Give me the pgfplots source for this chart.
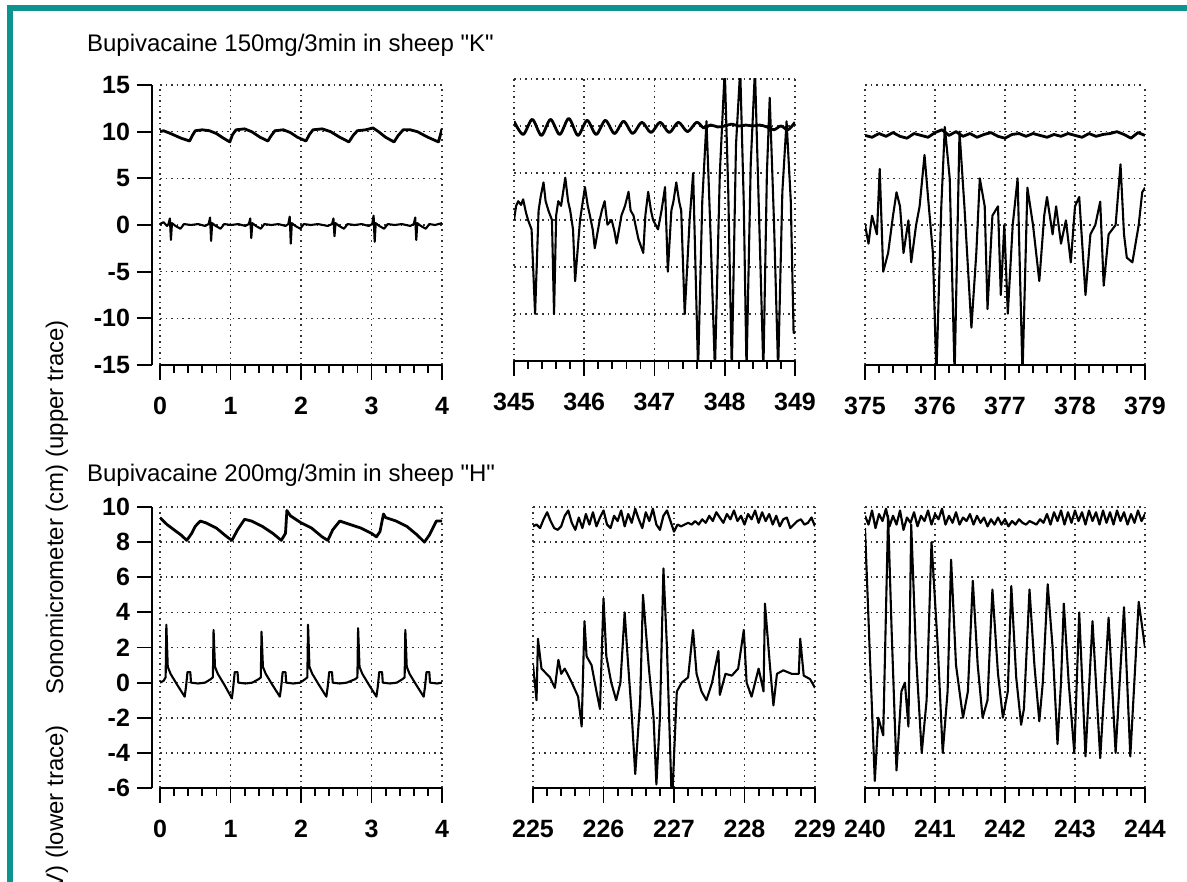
\documentclass[border=0pt]{standalone}
\usepackage{fontspec}
\setmainfont{Liberation Sans}
\usepackage{pgfplots}
\pgfplotsset{compat=1.18}
\definecolor{tealframe}{RGB}{14,148,144}
\pgfplotsset{
  panel/.style={
    scale only axis, clip=true,
    axis x line*=bottom, axis y line*=left,
    axis line style={-, line width=1.2pt, black},
    tick align=outside,
    major tick length=7.5pt, minor tick length=4pt,
    minor x tick num=4,
    tick style={black, line width=0.9pt},
    xmajorgrids, ymajorgrids,
    major grid style={black!80, line width=0.8pt, dash pattern=on 0.8pt off 2pt},
    ticklabel style={font=\bfseries\fontsize{12.5}{14}\selectfont},
    xticklabel style={yshift=-5pt},
    /pgf/number format/assume math mode=true,
    /pgf/number format/1000 sep={},
  },
  noy/.style={y axis line style={draw=none}, ytick style={draw=none}, yticklabels={}},
  up/.style={black, line width=1.4pt, line join=round, mark=none},
  lo/.style={black, line width=1.05pt, line join=round, mark=none},
}
\begin{document}
\begin{tikzpicture}
\useasboundingbox (0,0) rectangle (593.5pt,-441pt);
\clip (0,0) rectangle (593.5pt,-441pt);
\fill[white] (0,0) rectangle (593.5pt,-441pt);
\fill[tealframe] (3.5pt,-2.5pt) rectangle (593.5pt,-5.5pt);
\fill[tealframe] (3.5pt,-2.5pt) rectangle (6.5pt,-441pt);

\node[anchor=base west, font=\fontsize{12}{14}\selectfont] at (40pt,-26pt) {Bupivacaine 150mg/3min in sheep \textquotedbl K\textquotedbl};
\node[anchor=base west, font=\fontsize{12}{14}\selectfont] at (40pt,-240.8pt) {Bupivacaine 200mg/3min in sheep \textquotedbl H\textquotedbl};
\node[rotate=90, anchor=east, font=\fontsize{12}{14}\selectfont] at (28.5pt,-156.5pt) {Sonomicrometer (cm) (upper trace)};
\node[rotate=90, anchor=east, font=\fontsize{12}{14}\selectfont] at (28.5pt,-359pt) {ECG (mV) (lower trace)};

% ---------- Panel 1 ----------
\begin{axis}[panel, at={(80pt,-42.5pt)}, anchor=north west, width=141pt, height=140pt,
  xmin=0, xmax=4, ymin=-15, ymax=15, xtick={0,1,2,3,4}, ytick={-15,-10,-5,0,5,10,15},
  axis y line shift=4pt]
\addplot[up] coordinates {(0,10.0) (0.05,10.1) (0.15,9.8) (0.3,9.3) (0.42,9.0) (0.46,9.6) (0.5,10.1) (0.6,10.2) (0.7,10.1) (0.8,9.8) (0.9,9.3) (0.99,8.9) (1.03,9.7) (1.08,10.2) (1.2,10.3) (1.3,10.0) (1.42,9.4) (1.53,9.0) (1.58,9.6) (1.63,10.1) (1.75,10.2) (1.85,9.9) (1.95,9.4) (2.07,9.0) (2.12,9.7) (2.17,10.2) (2.3,10.3) (2.42,10.0) (2.55,9.4) (2.68,8.9) (2.74,9.6) (2.8,10.1) (2.92,10.2) (3.02,10.4) (3.1,10.0) (3.2,9.4) (3.32,8.9) (3.38,9.6) (3.45,10.2) (3.55,10.2) (3.65,10.0) (3.8,9.4) (3.95,8.9) (4.0,10.3)};
\addplot[lo] coordinates {(0,0.1) (0.05,0.3) (0.1,-0.1) (0.12,0.1) (0.14,0.7) (0.155,-1.6) (0.17,0.2) (0.22,-0.1) (0.29,-0.4) (0.34,0.1) (0.44,0) (0.54,0.1) (0.64,-0.1)
(0.69,0.1) (0.71,0.8) (0.725,-1.7) (0.74,0.2) (0.79,-0.1) (0.86,-0.4) (0.91,0.1) (1.01,0) (1.11,0.1) (1.21,-0.1)
(1.26,0.1) (1.28,0.7) (1.295,-1.4) (1.31,0.2) (1.36,-0.1) (1.43,-0.4) (1.48,0.1) (1.58,0) (1.68,0.1) (1.78,-0.1)
(1.82,0.1) (1.84,0.9) (1.855,-2.0) (1.87,0.2) (1.92,-0.1) (1.99,-0.4) (2.04,0.1) (2.14,0) (2.24,0.1) (2.38,-0.1)
(2.44,0.1) (2.46,0.7) (2.475,-1.2) (2.49,0.2) (2.54,-0.1) (2.61,-0.4) (2.66,0.1) (2.76,0) (2.86,0.1) (2.96,-0.1)
(3.01,0.1) (3.03,1.0) (3.045,-1.8) (3.06,0.2) (3.11,-0.1) (3.18,-0.4) (3.23,0.1) (3.33,0) (3.43,0.1) (3.55,-0.1)
(3.60,0.1) (3.62,0.8) (3.635,-1.6) (3.65,0.2) (3.70,-0.1) (3.77,-0.4) (3.82,0.1) (3.9,0) (4.0,0.2)};
\end{axis}

% ---------- Panel 2 ----------
\begin{axis}[panel, noy, at={(257pt,-39.5pt)}, anchor=north west, width=140.5pt, height=141pt,
  xmin=345, xmax=349, ymin=-15, ymax=15, xtick={345,346,347,348,349}, ytick={-15,-10,-5,0,5,10,15}]
\addplot[up, smooth, tension=0.5] coordinates {(345.00,10.5) (345.13,9.1) (345.26,10.7) (345.39,9.0) (345.52,10.7) (345.65,9.1) (345.78,10.8) (345.91,9.0) (346.04,10.6) (346.17,9.1) (346.30,10.6) (346.43,9.2) (346.56,10.5) (346.69,9.2) (346.82,10.4) (346.95,9.3) (347.08,10.4) (347.21,9.3) (347.34,10.4) (347.47,9.4) (347.60,10.4) (347.7,9.8) (347.8,10.1) (347.9,9.9) (348.0,10.0) (348.1,10.2) (348.2,10.0) (348.3,10.1) (348.4,10.0) (348.5,10.1) (348.6,9.9) (348.7,9.6) (348.8,10.0) (348.9,9.6) (349.0,10.4)};
\addplot[lo] coordinates {(345.0,0) (345.03,1.5) (345.06,2) (345.1,1.6) (345.13,2.2) (345.17,0.8) (345.2,0) (345.25,-1) (345.30,-10) (345.35,1) (345.38,2.5) (345.42,4) (345.45,2) (345.49,1) (345.54,0) (345.57,-10) (345.6,0.5) (345.63,2) (345.67,1.5) (345.73,4.5) (345.77,2) (345.80,1) (345.84,-1) (345.87,-6.5) (345.94,0) (345.97,1.5) (346.01,3.5) (346.05,1.5) (346.08,0.5) (346.12,-1) (346.15,-3) (346.22,0) (346.25,1) (346.29,2) (346.33,-0.5) (346.39,0) (346.43,-1.2) (346.46,-2.5) (346.53,0.5) (346.58,1.5) (346.63,3) (346.66,1) (346.70,0.5) (346.77,-2) (346.84,-3.5) (346.87,0.5) (346.91,3) (346.95,1) (346.98,0) (347.05,-1) (347.1,1) (347.15,3.5) (347.19,-5.5) (347.24,1) (347.27,2) (347.31,4) (347.35,2) (347.38,1) (347.43,-10) (347.50,0) (347.55,5)
(347.62,-16) (347.68,2) (347.74,10.5) (347.80,-2) (347.86,-16) (347.93,5) (348.0,16) (348.05,3) (348.10,-16) (348.16,8) (348.22,16) (348.27,2) (348.31,-16) (348.37,6) (348.43,16) (348.49,0) (348.55,-16) (348.60,5) (348.64,13) (348.70,0) (348.76,-16) (348.82,3) (348.88,10.5) (348.94,2) (348.98,-12) (349.0,-12)};
\end{axis}

% ---------- Panel 3 ----------
\begin{axis}[panel, noy, at={(432.5pt,-42.5pt)}, anchor=north west, width=140pt, height=140pt,
  xmin=375, xmax=379, ymin=-15, ymax=15, xtick={375,376,377,378,379}, ytick={-15,-10,-5,0,5,10,15}]
\addplot[up] coordinates {(375.0,9.6) (375.1,9.4) (375.2,9.8) (375.3,9.5) (375.4,9.9) (375.5,9.5) (375.6,9.3) (375.7,9.8) (375.8,9.6) (375.9,9.4) (376.0,9.9) (376.1,10.2) (376.2,9.6) (376.3,10.0) (376.4,9.5) (376.5,9.8) (376.6,9.4) (376.7,9.7) (376.8,9.9) (376.9,9.5) (377.0,9.3) (377.1,9.7) (377.2,9.8) (377.3,9.5) (377.4,9.8) (377.5,9.6) (377.6,9.4) (377.7,9.7) (377.8,9.5) (377.9,9.8) (378.0,9.6) (378.1,9.4) (378.2,9.8) (378.3,9.5) (378.4,9.7) (378.5,9.8) (378.6,10.0) (378.7,9.7) (378.8,9.3) (378.9,9.9) (379.0,9.6)};
\addplot[lo] coordinates {(375.0,0) (375.05,-2) (375.1,1) (375.17,-1) (375.21,6) (375.26,-5) (375.33,-3) (375.40,1) (375.45,3.5) (375.5,2) (375.55,-3) (375.62,0.5) (375.66,-4) (375.73,0) (375.78,2) (375.85,7.5) (375.9,3) (375.97,-3) (376.02,-16) (376.09,2) (376.14,10.5) (376.21,5) (376.28,-16) (376.35,10) (376.42,2) (376.52,-11) (376.59,-3) (376.64,5) (376.71,2) (376.75,-9) (376.82,1) (376.9,2) (376.94,-7.5) (376.99,0) (377.04,-9.5) (377.11,0) (377.18,5) (377.25,-16) (377.32,4) (377.4,0) (377.49,-6) (377.56,1) (377.6,3) (377.68,-1) (377.73,2) (377.8,-2) (377.87,0.5) (377.94,-4) (378.0,2) (378.06,3) (378.15,-7.5) (378.22,-1) (378.29,0) (378.36,2.5) (378.41,-6.5) (378.48,-1) (378.58,0) (378.65,6.5) (378.7,-1) (378.74,-3.5) (378.82,-4) (378.91,0) (378.96,3.5) (379.0,4)};
\end{axis}

% ---------- Panel 4 ----------
\begin{axis}[panel, at={(80pt,-253.5pt)}, anchor=north west, width=141pt, height=140.5pt,
  xmin=0, xmax=4, ymin=-6, ymax=10, xtick={0,1,2,3,4}, ytick={-6,-4,-2,0,2,4,6,8,10},
  axis y line shift=4pt]
\addplot[up] coordinates {(0,9.4) (0.1,9.0) (0.2,8.7) (0.3,8.4) (0.38,8.1) (0.45,8.5) (0.5,8.9) (0.57,9.2) (0.65,9.1) (0.8,8.8) (0.95,8.3) (1.02,8.1) (1.1,8.7) (1.2,9.3) (1.3,9.2) (1.45,8.9) (1.6,8.5) (1.72,8.1) (1.78,8.5) (1.8,9.8) (1.85,9.5) (2.0,9.1) (2.15,8.8) (2.3,8.3) (2.38,8.1) (2.45,8.7) (2.55,9.2) (2.7,9.0) (2.85,8.8) (3.0,8.5) (3.07,8.3) (3.12,8.6) (3.17,9.6) (3.2,9.4) (3.35,9.2) (3.5,8.9) (3.65,8.4) (3.75,8.0) (3.82,8.4) (3.92,9.2) (4.0,9.2)};
\addplot[lo] coordinates {(0,0) (0.05,0.1) (0.08,0.3) (0.09,3.3) (0.11,0.9) (0.15,0.5) (0.24,-0.1) (0.35,-0.8) (0.37,-0.2) (0.39,0.6) (0.43,0.6) (0.44,0) (0.54,-0.05) (0.64,0) (0.72,0.2)
(0.75,0.3) (0.76,3.0) (0.78,0.9) (0.82,0.5) (0.91,-0.1) (1.02,-0.9) (1.04,-0.2) (1.06,0.6) (1.10,0.6) (1.11,0) (1.21,-0.05) (1.31,0) (1.40,0.2)
(1.43,0.3) (1.44,2.9) (1.46,0.9) (1.50,0.5) (1.59,-0.1) (1.70,-0.8) (1.72,-0.2) (1.74,0.6) (1.78,0.6) (1.79,0) (1.89,-0.05) (1.99,0) (2.06,0.2)
(2.09,0.3) (2.10,3.3) (2.12,0.9) (2.16,0.5) (2.25,-0.1) (2.36,-0.8) (2.38,-0.2) (2.40,0.6) (2.44,0.6) (2.45,0) (2.55,-0.05) (2.65,0) (2.77,0.2)
(2.80,0.3) (2.81,3.1) (2.83,0.9) (2.87,0.5) (2.96,-0.1) (3.07,-0.8) (3.09,-0.2) (3.11,0.6) (3.15,0.6) (3.16,0) (3.26,-0.05) (3.36,0) (3.44,0.2)
(3.47,0.3) (3.48,3.0) (3.50,0.9) (3.54,0.5) (3.63,-0.1) (3.74,-0.8) (3.76,-0.2) (3.78,0.6) (3.82,0.6) (3.83,0) (3.93,-0.05) (4.0,0)};
\end{axis}

% ---------- Panel 5 ----------
\begin{axis}[panel, noy, at={(266.5pt,-253.5pt)}, anchor=north west, width=141pt, height=140.5pt,
  xmin=225, xmax=229, ymin=-6, ymax=10, xtick={225,226,227,228,229}, ytick={-6,-4,-2,0,2,4,6,8,10}]
\addplot[up, line width=1.1pt] coordinates {(225.00,8.9) (225.05,9.0) (225.10,8.8) (225.15,9.3) (225.20,9.7) (225.25,9.2) (225.30,8.8) (225.35,8.7) (225.40,8.9) (225.45,9.5) (225.50,9.8) (225.55,9.1) (225.60,8.7) (225.65,9.4) (225.70,8.8) (225.75,9.6) (225.80,9.0) (225.85,9.7) (225.90,8.9) (225.95,9.4) (226.00,9.8) (226.05,9.0) (226.10,8.8) (226.15,9.5) (226.20,9.2) (226.25,9.8) (226.30,8.9) (226.35,9.6) (226.40,9.1) (226.45,9.9) (226.50,9.3) (226.55,8.8) (226.60,9.7) (226.65,9.2) (226.70,9.9) (226.75,9.0) (226.80,8.7) (226.85,9.5) (226.90,9.8) (226.95,9.2) (227.00,8.6) (227.05,9.0) (227.10,8.9) (227.15,9.0) (227.20,9.1) (227.25,9.0) (227.30,9.2) (227.35,9.0) (227.40,9.3) (227.45,9.1) (227.50,9.5) (227.55,9.2) (227.60,9.7) (227.65,9.4) (227.70,9.1) (227.75,9.6) (227.80,9.3) (227.85,9.8) (227.90,9.2) (227.95,9.5) (228.00,9.0) (228.05,9.6) (228.10,9.3) (228.15,9.8) (228.20,9.1) (228.25,9.7) (228.30,9.2) (228.35,9.6) (228.40,9.0) (228.45,9.5) (228.50,8.9) (228.55,9.3) (228.60,9.4) (228.65,8.8) (228.70,9.0) (228.75,9.2) (228.80,9.3) (228.85,9.0) (228.90,9.1) (228.95,9.4) (229.00,8.9)};
\addplot[lo] coordinates {(225.0,1) (225.05,-1) (225.07,2.5) (225.12,0.8) (225.24,0.3) (225.31,-0.3) (225.36,1.3) (225.40,0.5) (225.45,0.8) (225.55,0) (225.64,-0.8) (225.69,-2.5) (225.73,3.5) (225.76,1.5) (225.83,1) (225.9,-0.5) (225.95,-1.5) (226.0,4.8) (226.04,1.5) (226.11,0) (226.18,-1) (226.24,0) (226.30,4) (226.35,1) (226.40,-1.8) (226.45,-5.2) (226.52,-1) (226.56,5) (226.64,1) (226.71,-2) (226.75,-5.8) (226.8,-2) (226.85,6.5) (226.9,2) (226.97,-7) (227.04,-0.5) (227.11,0) (227.2,0.3) (227.27,3) (227.32,0.5) (227.39,-0.5) (227.46,-1) (227.54,0) (227.63,1.8) (227.65,-0.7) (227.73,0.5) (227.82,0.4) (227.91,0.8) (227.99,3) (228.03,0) (228.1,-0.8) (228.2,0.8) (228.27,-0.5) (228.29,4.5) (228.36,1) (228.41,-1.3) (228.46,0.5) (228.55,0.7) (228.67,0.5) (228.77,0.5) (228.79,2.5) (228.84,0.4) (228.93,0.2) (229.0,-0.3)};
\end{axis}

% ---------- Panel 6 ----------
\begin{axis}[panel, noy, at={(432.5pt,-253.5pt)}, anchor=north west, width=140pt, height=140.5pt,
  xmin=240, xmax=244, ymin=-6, ymax=10, xtick={240,241,242,243,244}, ytick={-6,-4,-2,0,2,4,6,8,10}]
\addplot[up, line width=1.1pt] coordinates {(240.00,9.5) (240.05,9.0) (240.10,9.8) (240.15,8.8) (240.20,9.6) (240.25,9.2) (240.30,9.9) (240.35,8.9) (240.40,9.5) (240.45,9.0) (240.50,9.8) (240.55,8.7) (240.60,9.4) (240.65,9.1) (240.70,9.7) (240.75,8.9) (240.80,9.5) (240.85,9.2) (240.90,9.8) (240.95,9.0) (241.00,9.6) (241.05,9.3) (241.10,9.9) (241.15,9.0) (241.20,9.5) (241.25,9.1) (241.30,9.7) (241.35,9.0) (241.40,9.4) (241.45,9.2) (241.50,9.6) (241.55,9.0) (241.60,9.5) (241.65,9.1) (241.70,9.4) (241.75,8.9) (241.80,9.3) (241.85,9.0) (241.90,9.4) (241.95,9.0) (242.00,9.3) (242.05,8.9) (242.10,9.2) (242.15,9.0) (242.20,9.3) (242.25,9.1) (242.30,9.0) (242.35,9.2) (242.40,9.1) (242.45,9.0) (242.50,9.3) (242.55,9.1) (242.60,9.6) (242.65,9.0) (242.70,9.7) (242.75,9.2) (242.80,9.8) (242.85,9.0) (242.90,9.7) (242.95,9.1) (243.00,9.8) (243.05,9.2) (243.10,9.7) (243.15,9.0) (243.20,9.8) (243.25,9.2) (243.30,9.7) (243.35,9.0) (243.40,9.8) (243.45,9.1) (243.50,9.7) (243.55,9.0) (243.60,9.8) (243.65,9.2) (243.70,9.7) (243.75,9.0) (243.80,9.6) (243.85,9.1) (243.90,9.8) (243.95,9.2) (244.00,9.6)};
\addplot[lo] coordinates {(240.0,8.8) (240.07,1.5) (240.14,-5.6) (240.19,-2.0) (240.26,-3.0) (240.33,9.5) (240.38,3) (240.45,-5) (240.52,-0.5) (240.57,0) (240.62,-2.5) (240.66,9) (240.73,1.5) (240.81,-4) (240.88,-1) (240.95,8) (241.04,2) (241.11,-4) (241.18,-0.5) (241.23,7) (241.30,1) (241.40,-2) (241.47,-0.5) (241.54,5.8) (241.61,1) (241.68,-2) (241.75,-1) (241.82,5.3) (241.90,0.5) (241.97,-2) (242.04,-0.5) (242.09,5.5) (242.16,0.3) (242.23,-2.4) (242.27,-1.5) (242.35,5.3) (242.42,1) (242.49,-2.2) (242.54,0) (242.61,5.6) (242.68,2) (242.75,-3.5) (242.80,0) (242.84,4.5) (242.91,0) (242.99,-4) (243.06,4) (243.15,-4.2) (243.25,3.5) (243.36,-4.3) (243.48,3.7) (243.58,-4) (243.70,4.3) (243.79,-4.2) (243.91,4.6) (244.0,2)};
\end{axis}
\end{tikzpicture}
\end{document}
